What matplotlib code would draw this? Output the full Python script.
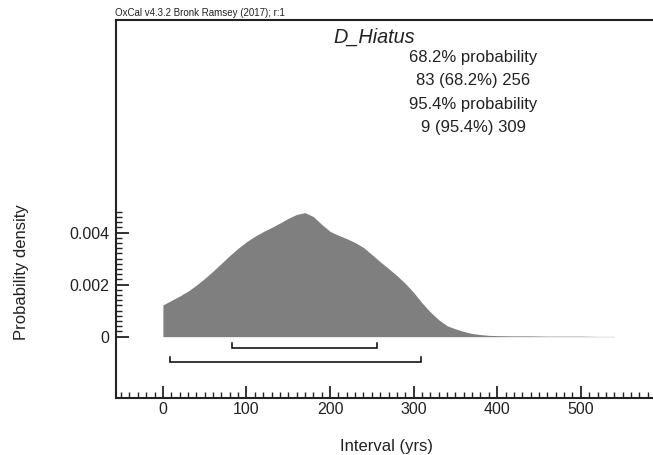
import matplotlib
matplotlib.use("Agg")
import matplotlib.pyplot as plt
from matplotlib.ticker import MultipleLocator, FixedLocator
import numpy as np

plt.rcParams['font.family'] = ['Liberation Sans', 'DejaVu Sans']

# ---- data ----
interval_yrs = [0, 10, 20, 30, 40, 50, 60, 70, 80, 90, 100, 110, 120, 130, 140,
                150, 160, 170, 180, 190, 200, 210, 220, 230, 240, 250, 260, 270,
                280, 290, 300, 310, 320, 330, 340, 350, 360, 370, 380, 390, 400,
                420, 440, 460, 480, 500, 520, 540]
density = [0.00122, 0.00139, 0.00156, 0.00175, 0.00198, 0.00224, 0.00252,
           0.00282, 0.00312, 0.00340, 0.00365, 0.00386, 0.00404, 0.00420,
           0.00437, 0.00455, 0.00470, 0.00477, 0.00462, 0.00432, 0.00405,
           0.00390, 0.00377, 0.00362, 0.00343, 0.00316, 0.00288, 0.00262,
           0.00235, 0.00205, 0.00170, 0.00130, 0.00095, 0.00065, 0.00042,
           0.00030, 0.00020, 0.00012, 0.00008, 0.00005, 0.00004, 0.00003,
           0.00003, 0.00002, 0.00002, 0.00002, 0.00001, 0.00001]

range_68 = (83, 256)
range_95 = (9, 309)
title = "D_Hiatus"
summary_lines = ["68.2% probability", "83 (68.2%) 256",
                 "95.4% probability", "9 (95.4%) 309"]
y_major_ticks = [0, 0.002, 0.004]
y_tick_labels = ["0", "0.002", "0.004"]
x_major_ticks = [0, 100, 200, 300, 400, 500]

W, H = 653, 455
fig = plt.figure(figsize=(W / 100, H / 100), dpi=100)

def fx(px):
    return px / W

def fy(py):
    return 1 - py / H

ax_left, ax_top, ax_bottom = 116, 20, 397.5
ax = fig.add_axes([fx(ax_left), fy(ax_bottom), 1 - fx(ax_left), (ax_bottom - ax_top) / H])

gray = '#7f7f7f'
ax.fill_between(interval_yrs, density, 0, color=gray, linewidth=0)

# range brackets
def bracket(rng, yv, tick):
    ax.plot([rng[0], rng[0], rng[1], rng[1]], [yv + tick, yv, yv, yv + tick],
            color='black', linewidth=1.1, solid_joinstyle='miter')

bracket(range_68, -0.00045, 0.00019)
bracket(range_95, -0.00099, 0.00019)

ax.set_xlim(-56.1, 586.4)
ax.set_ylim(-0.00234, 0.01218)

for s in ['left', 'top', 'bottom']:
    ax.spines[s].set_linewidth(1.5)
    ax.spines[s].set_color('#222222')
ax.spines['right'].set_visible(False)

ax.xaxis.set_major_locator(FixedLocator(x_major_ticks))
ax.xaxis.set_minor_locator(MultipleLocator(10))
ax.set_xticklabels([str(v) for v in x_major_ticks])
ax.yaxis.set_major_locator(FixedLocator(y_major_ticks))
ax.set_yticklabels(y_tick_labels)
ax.yaxis.set_minor_locator(FixedLocator([i * 0.0002 for i in range(25)]))

ax.tick_params(axis='x', which='major', direction='in', length=9, width=1.3,
               pad=3, labelsize=11.5, colors='#222222')
ax.tick_params(axis='x', which='minor', direction='in', length=4, width=1.0,
               colors='#222222')
ax.tick_params(axis='y', which='major', direction='in', length=9, width=1.3,
               pad=5, labelsize=11.5, colors='#222222')
ax.tick_params(axis='y', which='minor', direction='in', length=4.5, width=1.0,
               colors='#222222')
ax.tick_params(top=False, right=False, which='both')

txtc = '#222222'
fig.text(fx(115), fy(16.5), "OxCal v4.3.2 Bronk Ramsey (2017); r:1",
         fontsize=7, color=txtc, ha='left', va='baseline')
fig.text(fx(374), fy(42.5), title, fontsize=14.3, style='italic',
         color=txtc, ha='center', va='baseline')
line_y = [62, 85.5, 108.5, 132]
for t, yy in zip(summary_lines, line_y):
    fig.text(fx(473.5), fy(yy), t, fontsize=12, color=txtc,
             ha='center', va='baseline')

fig.text(fx(22), fy(272), "Probability density", rotation=90, fontsize=12,
         color=txtc, ha='center', va='center')
fig.text(fx(387), fy(446), "Interval (yrs)", fontsize=12, color=txtc,
         ha='center', va='center')

fig.savefig("out.png", dpi=100)
